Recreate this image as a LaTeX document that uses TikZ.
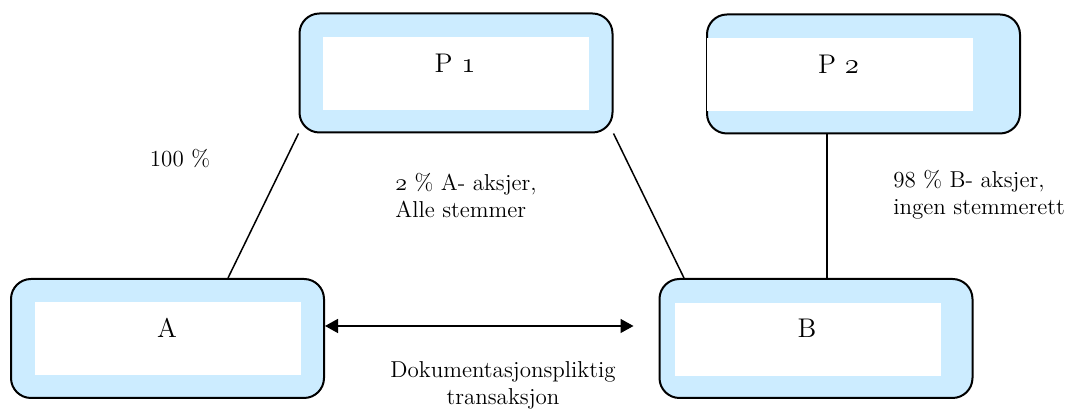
\documentclass[tikz,border=0pt]{standalone}
\usetikzlibrary{arrows.meta}
\definecolor{boxblue}{RGB}{204,236,255}
\newcommand{\oldnum}[1]{\ensuremath{\mathnormal{#1}}}

\begin{document}
\begin{tikzpicture}[x=0.5pt,y=-0.5pt,
    outerbox/.style={draw,line width=1pt,fill=boxblue,rounded corners=10pt,
      minimum width=156.5pt,minimum height=59.5pt,inner sep=0pt},
    innerbox/.style={fill=white,minimum width=133pt,minimum height=36.5pt,inner sep=0pt},
    boxtext/.style={font=\fontsize{13.5}{16}\selectfont,inner sep=0pt},
    lbl/.style={font=\fontsize{11.5}{13.5}\selectfont,inner sep=0pt},
    link/.style={line width=0.75pt},
    tip/.style={{Triangle[length=6.5pt,width=7pt]}-{Triangle[length=6.5pt,width=7pt]}}]
  \useasboundingbox (0,0) rectangle (1073,410);

  % owners
  \node[outerbox] (P1) at (456,73) {};
  \node[innerbox] (P1in) at (455.5,74) {};
  \node[boxtext] (P1txt) at (455,63) {P \oldnum{1}};

  \node[outerbox] (P2) at (863.5,74) {};
  \node[innerbox] (P2in) at (839.5,75) {};
  \node[boxtext] (P2txt) at (838.5,64) {P \oldnum{2}};

  % companies
  \node[outerbox] (A) at (167.5,338.5) {};
  \node[innerbox] (Ain) at (167.5,338.5) {};
  \node[boxtext] (Atxt) at (167,328) {A};

  \node[outerbox] (B) at (816,338.5) {};
  \node[innerbox] (Bin) at (807.5,339.5) {};
  \node[boxtext] (Btxt) at (807,328) {B};

  % ownership lines
  \draw[link] (P1.south west) -- ([xshift=30.25pt]A.north);
  \draw[link] (P1.south east) -- ([xshift=-66pt]B.north);
  \draw[link] ([xshift=5.5pt]B.north) -- ([xshift=5.5pt]B.north |- P2.south);

  % transaction
  \draw[link,tip] ([yshift=6.25pt]A.east) -- ([xshift=-12.5pt,yshift=6.25pt]B.west);

  % labels
  \node[lbl] (own) at (180,159) {100 \%};
  \node[lbl,anchor=west,align=left] (vote) at (395,195) {\oldnum{2} \% A- aksjer,\\Alle stemmer};
  \node[lbl,anchor=west,align=left] (novote) at (893,195) {98 \% B- aksjer,\\ingen stemmerett};
  \node[lbl,align=center] (deal) at (503,385) {Dokumentasjonspliktig\\transaksjon};
\end{tikzpicture}
\end{document}
